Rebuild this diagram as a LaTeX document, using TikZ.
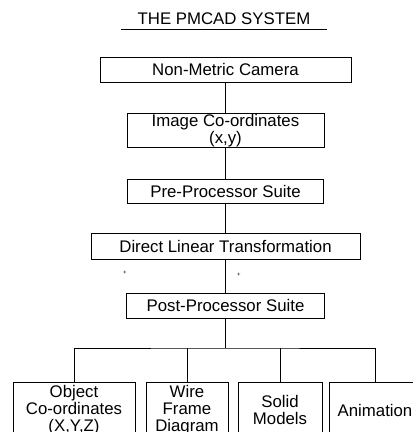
\documentclass[tikz,border=0pt]{standalone}
\usepackage{fontspec}
\setmainfont{Liberation Sans}

\begin{document}
\begin{tikzpicture}
  [ x=1pt, y=1pt, line width=0.9pt,
    font=\fontsize{16.8}{17}\selectfont,
    box/.style={draw, rectangle, align=center, inner sep=1pt},
    leaf/.style={box, anchor=north, minimum height=56pt}]
  \clip (0,0) rectangle (413,-432);

  \node [name=title, inner xsep=16pt, inner ysep=4pt] at (224,-19) {THE PMCAD SYSTEM};
  \draw (title.south west) -- (title.south east);

  \node [name=camera, box, minimum width=251pt, minimum height=25pt] at (225.5,-69.5) {Non-Metric Camera};
  \node [name=imagecoord, box, below of=camera, node distance=61pt, minimum width=197pt, minimum height=33pt] {Image Co-ordinates\\(x,y)};
  \node [name=preproc, box, below of=imagecoord, node distance=60.5pt, minimum width=196pt, minimum height=24pt] {Pre-Processor Suite};
  \node [name=dlt, box, below of=preproc, node distance=55pt, minimum width=269pt, minimum height=26pt] {Direct Linear Transformation};
  \node [name=postproc, box, below of=dlt, node distance=59.5pt, minimum width=198pt, minimum height=25pt] {Post-Processor Suite};

  \node [name=objcoord, leaf, minimum width=122pt] at (74,-382) {Object\\Co-ordinates\\(X,Y,Z)};
  \node [name=wireframe, leaf, minimum width=82pt] at (187,-382) {Wire\\Frame\\Diagram};
  \node [name=solid, leaf, minimum width=84pt] at (280,-382) {Solid\\Models};
  \node [name=anim, leaf, minimum width=92pt] at (375,-382) {Animation};

  \node [name=markleft, font=\fontsize{6}{6}\selectfont, inner sep=0pt] at (125,-273) {+};
  \node [name=markright, font=\fontsize{6}{6}\selectfont, inner sep=0pt] at (239,-275) {+};

  \coordinate (bus) at (225.5,-348);

  \path (camera) edge (imagecoord)
        (imagecoord) edge (preproc)
        (preproc) edge (dlt)
        (dlt) edge (postproc);
  \draw (postproc.south) -- (bus);
  \draw (objcoord.north) |- (bus) -| (anim.north);
  \draw (wireframe.north) -- (wireframe.north |- bus);
  \draw (solid.north) -- (solid.north |- bus);
\end{tikzpicture}
\end{document}
